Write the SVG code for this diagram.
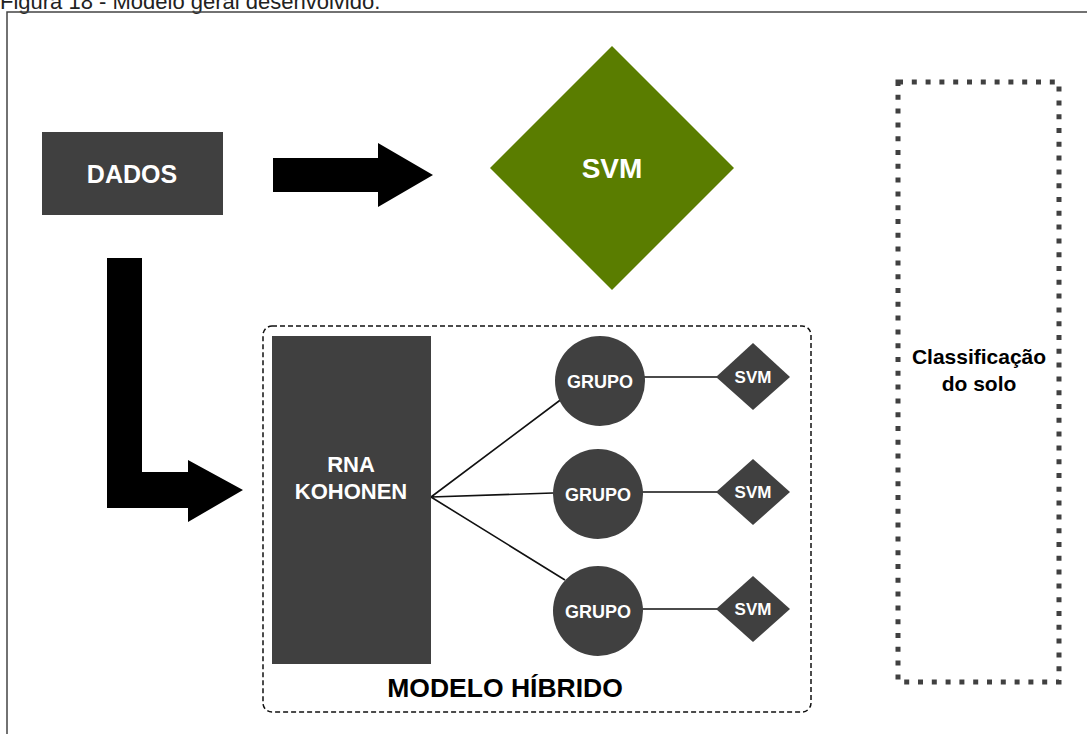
<svg xmlns="http://www.w3.org/2000/svg" width="1087" height="734" viewBox="0 0 1087 734">
<style>
.t{font-family:"Liberation Sans",Arial,sans-serif;font-weight:bold;text-anchor:middle}
.w{fill:#ffffff}
.dk{fill:#404040}
.ln{stroke:#111;stroke-width:1.6;fill:none}
</style>
<rect width="1087" height="734" fill="#fff"/>
<text x="0" y="9" font-family="Liberation Sans,Arial,sans-serif" font-size="22" fill="#222">Figura 18 - Modelo geral desenvolvido.</text>
<rect x="7" y="12" width="1090" height="740" fill="none" stroke="#444" stroke-width="1.5"/>

<g id="connectors">
<polygon points="273,158 378,158 378,143 433,175 378,207 378,192 273,192" fill="#000"/>
<polygon points="107,258 142,258 142,472 188,472 188,460 243,490 188,522 188,508 107,508" fill="#000"/>
<path class="ln" d="M431,497 L563,398 M431,497 L553,493 M431,497 L565,580"/>
<path class="ln" d="M644,377 L718,377 M642,492 L718,492 M642,609 L718,609"/>
</g>

<g id="dados">
<rect x="42" y="132" width="181" height="83" class="dk"/>
<text x="132" y="183" class="t w" font-size="25">DADOS</text>
</g>

<g id="svm-main">
<polygon points="612,46 734,168 612,290 490,168" fill="#5a7d00"/>
<text x="612" y="178" class="t w" font-size="28">SVM</text>
</g>

<g id="modelo-hibrido">
<rect x="263" y="326" width="548" height="386" rx="9" fill="none" stroke="#111" stroke-width="1.5" stroke-dasharray="5,3"/>
<text x="505" y="697" class="t" font-size="26.5" fill="#000">MODELO HÍBRIDO</text>
</g>

<g id="rna-kohonen">
<rect x="272" y="336" width="159" height="328" class="dk"/>
<text x="351" y="472" class="t w" font-size="22">RNA</text>
<text x="351" y="499" class="t w" font-size="22">KOHONEN</text>
</g>

<g id="grupo1">
<circle cx="600" cy="381" r="45" class="dk"/>
<text x="600" y="388" class="t w" font-size="18">GRUPO</text>
</g>
<g id="grupo2">
<circle cx="598" cy="494" r="45" class="dk"/>
<text x="598" y="501" class="t w" font-size="18">GRUPO</text>
</g>
<g id="grupo3">
<circle cx="598" cy="611" r="45" class="dk"/>
<text x="598" y="618" class="t w" font-size="18">GRUPO</text>
</g>

<g id="svm1">
<polygon points="753,343 790,377 753,410 716,377" class="dk"/>
<text x="753" y="383" class="t w" font-size="17">SVM</text>
</g>
<g id="svm2">
<polygon points="753,459 790,492 753,525 716,492" class="dk"/>
<text x="753" y="498" class="t w" font-size="17">SVM</text>
</g>
<g id="svm3">
<polygon points="753,576 790,609 753,642 716,609" class="dk"/>
<text x="753" y="615" class="t w" font-size="17">SVM</text>
</g>

<g id="classificacao">
<rect x="898" y="82" width="161" height="600" fill="none" stroke="#404040" stroke-width="5" stroke-dasharray="5,8.8"/>
<text x="979" y="364" class="t" font-size="21" fill="#000">Classificação</text>
<text x="979" y="391" class="t" font-size="21" fill="#000">do solo</text>
</g>
</svg>
